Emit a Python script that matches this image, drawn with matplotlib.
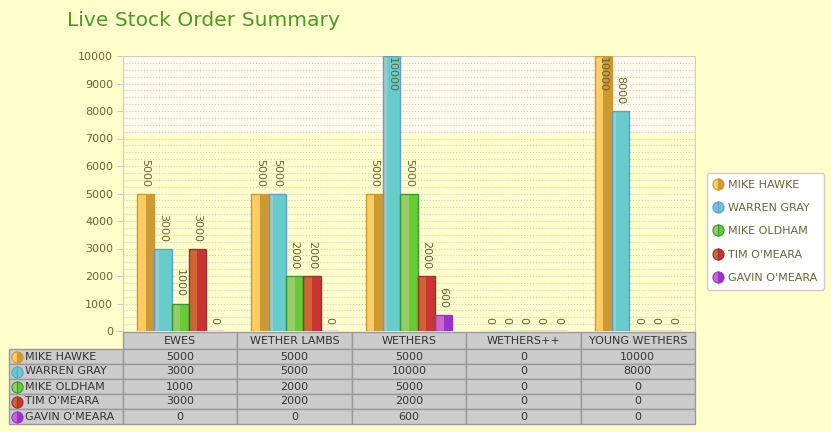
import numpy as np
import matplotlib.pyplot as plt
from matplotlib.lines import Line2D
from matplotlib.patches import Rectangle
from matplotlib.ticker import MultipleLocator

categories = ['EWES', 'WETHER LAMBS', 'WETHERS', 'WETHERS++', 'YOUNG WETHERS']
people = ['MIKE HAWKE', 'WARREN GRAY', 'MIKE OLDHAM', "TIM O'MEARA", "GAVIN O'MEARA"]
mike_hawke = [5000, 5000, 5000, 0, 10000]
warren_gray = [3000, 5000, 10000, 0, 8000]
mike_oldham = [1000, 2000, 5000, 0, 0]
tim_omeara = [3000, 2000, 2000, 0, 0]
gavin_omeara = [0, 0, 600, 0, 0]
series = [mike_hawke, warren_gray, mike_oldham, tim_omeara, gavin_omeara]

light = ['#FFCC66', '#66CCCC', '#99CC66', '#CC6633', '#CC66CC']
dark = ['#CC9933', '#66CCCC', '#66CC33', '#CC3333', '#9933CC']
edge = ['#CC9933', '#6699CC', '#339933', '#993333', '#9933CC']
strip = [None, '#99CCCC', None, None, None]

bg = '#FFFFCC'
olive = '#666633'
W, H = 831, 432

fig = plt.figure(figsize=(W / 100, H / 100), dpi=100)
fig.patch.set_facecolor(bg)
ax = fig.add_axes([123 / W, 101 / H, 572 / W, 275 / H])
ax.set_facecolor(bg)
ax.axhspan(7240, 10000, color='#FFFBEC', zorder=0)

w = 0.151
x = np.arange(len(categories))
for j, vals in enumerate(series):
    xs = x + (j - 2) * w
    ax.bar(xs, vals, w, color=dark[j], zorder=2, linewidth=0)
    if strip[j]:
        ax.bar(xs - w / 2, vals, w * 0.25, align='edge', color=strip[j], zorder=2, linewidth=0)
    else:
        ax.bar(xs - w / 2, vals, w / 2, align='edge', color=light[j], zorder=2, linewidth=0)
    ax.bar(xs, vals, w, facecolor='none', edgecolor=edge[j], linewidth=1, zorder=3)
    for xi, v in zip(xs, vals):
        if v >= 10000:
            ax.annotate(str(v), (xi, v), xytext=(0, -1), textcoords='offset points',
                        rotation=-90, ha='center', va='top', fontsize=8, color=olive, zorder=4)
        else:
            ax.annotate(str(v), (xi, v), xytext=(0, 5), textcoords='offset points',
                        rotation=-90, ha='center', va='bottom', fontsize=8, color=olive, zorder=4)

ax.set_xlim(-0.5, len(categories) - 0.5)
ax.set_ylim(0, 10000)
ax.set_xticks([])
ax.set_yticks(np.arange(0, 10001, 1000))
ax.yaxis.set_minor_locator(MultipleLocator(250))
ax.grid(which='both', axis='y', linestyle=':', color='#CCCCCC', linewidth=0.8, zorder=1)
ax.set_axisbelow(True)
ax.tick_params(axis='y', which='major', length=4, color='#CCCCCC', labelsize=8,
               labelcolor=olive, pad=3)
ax.tick_params(axis='y', which='minor', length=0)
for s in ['left', 'top', 'right']:
    ax.spines[s].set_color('#CCCCCC')
ax.spines['bottom'].set_visible(False)

fig.text(67 / W, 1 - 21 / H, 'Live Stock Order Summary', fontsize=14.6,
         color='#4D9926', va='center', ha='left')

# data table under the plot, drawn cell by cell in figure pixels
col_w = 572 / len(categories)
col_edges = [9] + [123 + i * col_w for i in range(len(categories) + 1)]
row_edges = [332, 349] + [349 + 15 * (i + 1) for i in range(len(people))]


def cell(x0, x1, y0, y1):
    fig.patches.append(Rectangle((x0 / W, 1 - y1 / H), (x1 - x0) / W, (y1 - y0) / H,
                                 transform=fig.transFigure, facecolor='#CCCCCC',
                                 edgecolor='#999999', linewidth=1))


for i, cat in enumerate(categories):
    x0, x1 = col_edges[i + 1], col_edges[i + 2]
    cell(x0, x1, row_edges[0], row_edges[1])
    fig.text((x0 + x1) / 2 / W, 1 - (row_edges[0] + row_edges[1]) / 2 / H, cat,
             ha='center', va='center', fontsize=8, color='#333333')

for r, (name, vals) in enumerate(zip(people, series)):
    y0, y1 = row_edges[r + 1], row_edges[r + 2]
    yc = 1 - (y0 + y1) / 2 / H
    cell(col_edges[0], col_edges[1], y0, y1)
    fig.lines.append(Line2D([17 / W], [yc], transform=fig.transFigure, marker='o',
                            markersize=8, fillstyle='left', markerfacecolor=light[r],
                            markerfacecoloralt=dark[r], markeredgecolor=edge[r],
                            markeredgewidth=0.8, linestyle=''))
    fig.text(25 / W, yc, name, ha='left', va='center', fontsize=8, color='#333333')
    for i, v in enumerate(vals):
        x0, x1 = col_edges[i + 1], col_edges[i + 2]
        cell(x0, x1, y0, y1)
        fig.text((x0 + x1) / 2 / W, yc, str(v), ha='center', va='center',
                 fontsize=8, color='#333333')

handles = [Line2D([], [], marker='o', linestyle='', markersize=8, fillstyle='left',
                  markerfacecolor=light[j], markerfacecoloralt=dark[j],
                  markeredgecolor=edge[j], markeredgewidth=0.8) for j in range(len(people))]
leg = fig.legend(handles, people, loc='upper left', bbox_to_anchor=(707 / W, 1 - 173 / H),
                 frameon=True, fancybox=True, fontsize=8, labelcolor=olive,
                 handlelength=0.8, handletextpad=0.5, labelspacing=1.2,
                 borderpad=0.6, borderaxespad=0)
leg.get_frame().set_edgecolor('#CCCCCC')
leg.get_frame().set_facecolor('white')
leg.get_frame().set_alpha(1)

fig.savefig('out.png', dpi=100, facecolor=bg)
